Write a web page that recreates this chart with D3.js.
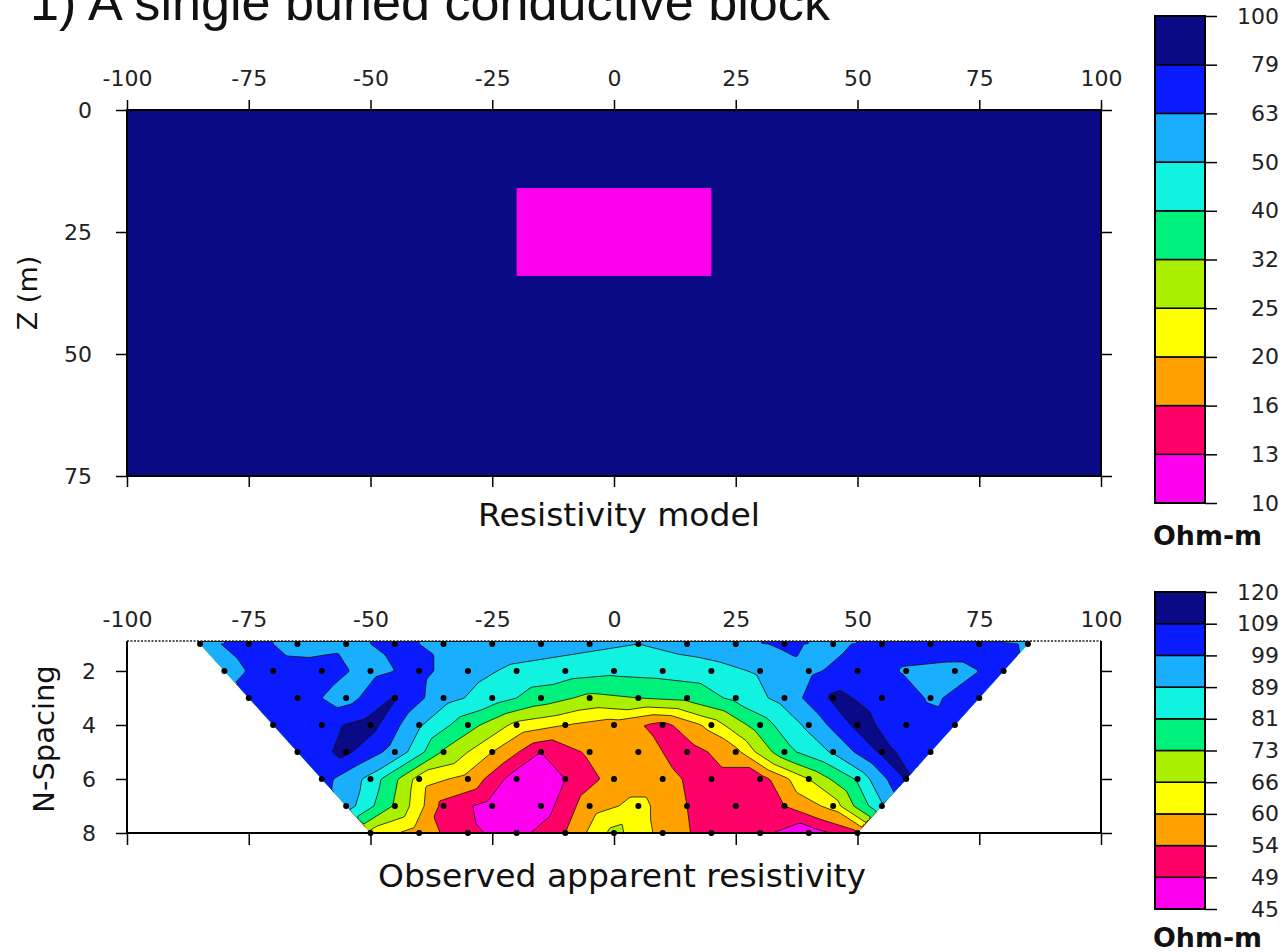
<!DOCTYPE html>
<html><head><meta charset="utf-8">
<script src="https://cdn.jsdelivr.net/npm/d3@7"></script>
<style>body{margin:0;background:#fff}svg{display:block}</style>
</head><body>
<svg id="c" width="1284" height="952"></svg>
<script>
// ---------------- DATA ----------------
const title = "1) A single buried conductive block";
const modelTitle = "Resistivity model";
const pseudoTitle = "Observed apparent resistivity";
const unitLabel = "Ohm-m";

// Resistivity model
const modelXTicks = [-100, -75, -50, -25, 0, 25, 50, 75, 100];
const modelZTicks = [0, 25, 50, 75];
const modelExtentX = [-100, 100];
const modelExtentZ = [0, 75];
const modelBackgroundRes = 100;
const blockX = [-20, 20];
const blockZ = [16, 34];
const blockRes = 10;
const modelLevels = [10, 13, 16, 20, 25, 32, 40, 50, 63, 79, 100];

// Pseudosection
const pseudoXTicks = [-100, -75, -50, -25, 0, 25, 50, 75, 100];
const pseudoNTicks = [2, 4, 6, 8];
const pseudoNDomain = [0.89, 8];
const pseudoLevels = [45, 49, 54, 60, 66, 73, 81, 89, 99, 109, 120];
const nSpacing = [1, 2, 3, 4, 5, 6, 7, 8];
const rowStart = [-85, -80, -75, -70, -65, -60, -55, -50];
const stationStep = 10;
const row1 = [96, 103, 95, 97, 101, 97, 95, 93, 91, 89, 92, 95, 101, 96, 104, 103, 103, 98];
const row2 = [95, 104, 103, 96, 102, 92, 87, 85, 83, 84, 86, 90, 97, 104, 98, 97, 101];
const row3 = [104, 103, 95, 110, 92, 85, 77, 71, 73, 75, 83, 92, 111, 106, 98, 102];
const row4 = [104, 106, 113, 90, 76, 64, 60, 57, 52, 62, 77, 91, 112, 104, 101];
const row5 = [104, 111, 95, 72, 60, 49, 55, 57, 51, 58, 78, 90, 111, 104];
const row6 = [103, 86, 63, 58, 46, 49, 56, 56, 51, 51, 66, 82, 110];
const row7 = [93, 72, 52, 47, 46, 57, 62, 54, 50, 54, 62, 88];
const row8 = [64, 57, 50, 47, 54, 68, 58, 51, 50, 46, 53];
const rows = [row1, row2, row3, row4, row5, row6, row7, row8];

// shared colour bands, lowest to highest
const bandColors = ["#ff00ee", "#ff0068", "#ffa200", "#ffff00", "#aaf000",
                    "#00f07c", "#12f2e0", "#1aaeff", "#0a1cff", "#0a0a86"];

// ---------------- DRAW ----------------
const svg = d3.select("#c");
const SANS = "'DejaVu Sans', Verdana, sans-serif";
const TICKCOL = "#222";
const plainFmt = d => String(d);

svg.append("text")
  .attr("x", 30).attr("y", 20)
  .attr("font-family", "'Liberation Sans', Arial, sans-serif")
  .attr("font-size", 52).attr("fill", "#111")
  .attr("textLength", 800).attr("lengthAdjust", "spacingAndGlyphs")
  .text(title);

function styleAxis(g, fs) {
  g.select(".domain").remove();
  g.selectAll(".tick line").attr("stroke", "#000").attr("stroke-width", 1.5);
  g.selectAll(".tick text").attr("font-family", SANS).attr("font-size", fs).attr("fill", TICKCOL);
}

// ---- Top: resistivity model ----
const xM = d3.scaleLinear().domain(modelExtentX).range([127, 1101]);
const zM = d3.scaleLinear().domain(modelExtentZ).range([110, 476]);
const modelColor = d3.scaleThreshold().domain(modelLevels.slice(1, -1)).range(bandColors);

svg.append("rect")
  .attr("x", xM(modelExtentX[0])).attr("y", zM(modelExtentZ[0]))
  .attr("width", xM(modelExtentX[1]) - xM(modelExtentX[0]))
  .attr("height", zM(modelExtentZ[1]) - zM(modelExtentZ[0]))
  .attr("fill", modelColor(modelBackgroundRes));
svg.append("rect")
  .attr("x", xM(blockX[0])).attr("y", zM(blockZ[0]))
  .attr("width", xM(blockX[1]) - xM(blockX[0]))
  .attr("height", zM(blockZ[1]) - zM(blockZ[0]))
  .attr("fill", modelColor(blockRes));

svg.append("g").attr("transform", `translate(0,${zM.range()[0]})`)
  .call(d3.axisTop(xM).tickValues(modelXTicks).tickFormat(plainFmt).tickSize(10).tickPadding(14).tickSizeOuter(0))
  .call(g => styleAxis(g, 22));
svg.append("g").attr("transform", `translate(0,${zM.range()[1]})`)
  .call(d3.axisBottom(xM).tickValues(modelXTicks).tickSize(11).tickFormat("").tickSizeOuter(0))
  .call(g => styleAxis(g, 22));
svg.append("g").attr("transform", `translate(${xM.range()[0]},0)`)
  .call(d3.axisLeft(zM).tickValues(modelZTicks).tickFormat(plainFmt).tickSize(11).tickPadding(24).tickSizeOuter(0))
  .call(g => styleAxis(g, 22));
svg.append("g").attr("transform", `translate(${xM.range()[1]},0)`)
  .call(d3.axisRight(zM).tickValues(modelZTicks).tickSize(11).tickFormat("").tickSizeOuter(0))
  .call(g => styleAxis(g, 22));
svg.append("rect")
  .attr("x", xM.range()[0]).attr("y", zM.range()[0])
  .attr("width", xM.range()[1] - xM.range()[0]).attr("height", zM.range()[1] - zM.range()[0])
  .attr("fill", "none").attr("stroke", "#000").attr("stroke-width", 2);

svg.append("text").attr("x", 478).attr("y", 526)
  .attr("font-family", SANS).attr("font-size", 32).attr("fill", "#111")
  .attr("textLength", 282).attr("lengthAdjust", "spacingAndGlyphs")
  .text(modelTitle);
svg.append("text").attr("transform", `translate(27,${(zM.range()[0] + zM.range()[1]) / 2}) rotate(-90)`)
  .attr("text-anchor", "middle").attr("dominant-baseline", "central")
  .attr("font-family", SANS).attr("font-size", 27).attr("fill", "#111")
  .text("Z (m)");

// ---- Bottom: pseudosection ----
const xP = d3.scaleLinear().domain([pseudoXTicks[0], pseudoXTicks[pseudoXTicks.length - 1]]).range([127, 1101]);
const nP = d3.scaleLinear().domain(pseudoNDomain).range([641, 833]);

const pts = [];
rows.forEach((vals, r) => vals.forEach((v, k) => {
  const x = rowStart[r] + k * stationStep;
  pts.push({ x, n: nSpacing[r], v, px: xP(x), py: nP(nSpacing[r]) });
}));

const cell = 2;
const gx0 = xP.range()[0], gy0 = nP.range()[0];
const gw = Math.ceil((xP.range()[1] - gx0) / cell);
const gh = Math.ceil((nP.range()[1] - gy0) / cell);
const grid = new Float64Array(gw * gh).fill(NaN);
const del = d3.Delaunay.from(pts, p => p.px, p => p.py);
const T = del.triangles;
for (let t = 0; t < T.length; t += 3) {
  const a = pts[T[t]], b = pts[T[t + 1]], c = pts[T[t + 2]];
  const det = (b.py - c.py) * (a.px - c.px) + (c.px - b.px) * (a.py - c.py);
  if (Math.abs(det) < 1e-9) continue;
  const i0 = Math.max(0, Math.floor((Math.min(a.px, b.px, c.px) - gx0) / cell) - 1);
  const i1 = Math.min(gw - 1, Math.ceil((Math.max(a.px, b.px, c.px) - gx0) / cell) + 1);
  const j0 = Math.max(0, Math.floor((Math.min(a.py, b.py, c.py) - gy0) / cell) - 1);
  const j1 = Math.min(gh - 1, Math.ceil((Math.max(a.py, b.py, c.py) - gy0) / cell) + 1);
  for (let j = j0; j <= j1; j++) for (let i = i0; i <= i1; i++) {
    const X = gx0 + (i + 0.5) * cell, Y = gy0 + (j + 0.5) * cell;
    const l1 = ((b.py - c.py) * (X - c.px) + (c.px - b.px) * (Y - c.py)) / det;
    const l2 = ((c.py - a.py) * (X - c.px) + (a.px - c.px) * (Y - c.py)) / det;
    const l3 = 1 - l1 - l2;
    if (l1 >= -1e-7 && l2 >= -1e-7 && l3 >= -1e-7) grid[j * gw + i] = l1 * a.v + l2 * b.v + l3 * c.v;
  }
}
for (let j = 0; j < gh; j++) for (let i = 0; i < gw; i++) {
  const k = j * gw + i;
  if (isNaN(grid[k])) grid[k] = pts[del.find(gx0 + (i + 0.5) * cell, gy0 + (j + 0.5) * cell)].v;
}

// hull polygon (extended to top frame)
const last = rows.length - 1;
const leftEdge = d3.scaleLinear().domain([nSpacing[0], nSpacing[last]]).range([rowStart[0], rowStart[last]]);
const rowEnd = rows.map((r, i) => rowStart[i] + (r.length - 1) * stationStep);
const rightEdge = d3.scaleLinear().domain([nSpacing[0], nSpacing[last]]).range([rowEnd[0], rowEnd[last]]);
const nTop = pseudoNDomain[0], nBot = nSpacing[last];
const hull = [[xP(leftEdge(nTop)), nP(nTop)], [xP(leftEdge(nBot)), nP(nBot)],
              [xP(rightEdge(nBot)), nP(nBot)], [xP(rightEdge(nTop)), nP(nTop)]];

svg.append("clipPath").attr("id", "hullclip")
  .append("path").attr("d", "M" + hull.map(p => p.join(",")).join("L") + "Z");

const contours = d3.contours().size([gw, gh]).thresholds(pseudoLevels.slice(0, -1))(grid);
const proj = d3.geoTransform({ point(x, y) { this.stream.point(gx0 + x * cell, gy0 + y * cell); } });
const gpath = d3.geoPath(proj);

const gc = svg.append("g").attr("clip-path", "url(#hullclip)");
gc.append("path").attr("d", "M" + hull.map(p => p.join(",")).join("L") + "Z").attr("fill", bandColors[0]);
gc.selectAll("path.band").data(contours).join("path").attr("class", "band")
  .attr("d", gpath).attr("fill", (d, i) => bandColors[i]);
gc.selectAll("path.iso").data(contours.slice(1)).join("path").attr("class", "iso")
  .attr("d", gpath).attr("fill", "none").attr("stroke", "#111").attr("stroke-width", 1).attr("stroke-opacity", 0.8);

svg.append("g").selectAll("circle").data(pts).join("circle")
  .attr("cx", d => d.px).attr("cy", d => d.py).attr("r", 3).attr("fill", "#000");

svg.append("g").attr("transform", `translate(0,${nP.range()[0]})`)
  .call(d3.axisTop(xP).tickValues(pseudoXTicks).tickFormat(plainFmt).tickSize(0).tickPadding(14).tickSizeOuter(0))
  .call(g => styleAxis(g, 22));
svg.append("g").attr("transform", `translate(0,${nP.range()[1]})`)
  .call(d3.axisBottom(xP).tickValues(pseudoXTicks).tickSize(12).tickFormat("").tickSizeOuter(0))
  .call(g => styleAxis(g, 22));
svg.append("g").attr("transform", `translate(${xP.range()[0]},0)`)
  .call(d3.axisLeft(nP).tickValues(pseudoNTicks).tickFormat(plainFmt).tickSize(11).tickPadding(20).tickSizeOuter(0))
  .call(g => styleAxis(g, 22));
svg.append("g").attr("transform", `translate(${xP.range()[1]},0)`)
  .call(d3.axisRight(nP).tickValues(pseudoNTicks).tickSize(11).tickFormat("").tickSizeOuter(0))
  .call(g => styleAxis(g, 22));
const [fx0, fx1] = xP.range(), [fy0, fy1] = nP.range();
svg.append("path").attr("d", `M${fx0},${fy0}V${fy1}H${fx1}V${fy0}`)
  .attr("fill", "none").attr("stroke", "#000").attr("stroke-width", 2);
svg.append("line").attr("x1", fx0).attr("x2", fx1).attr("y1", fy0).attr("y2", fy0)
  .attr("stroke", "#222").attr("stroke-width", 1.6).attr("stroke-dasharray", "2,1.5");

svg.append("text").attr("x", 378).attr("y", 887)
  .attr("font-family", SANS).attr("font-size", 32).attr("fill", "#111")
  .attr("textLength", 488).attr("lengthAdjust", "spacingAndGlyphs")
  .text(pseudoTitle);
svg.append("text").attr("transform", `translate(44,${(fy0 + fy1) / 2 + 2}) rotate(-90)`)
  .attr("text-anchor", "middle").attr("dominant-baseline", "central")
  .attr("font-family", SANS).attr("font-size", 29).attr("fill", "#111")
  .text("N-Spacing");

// ---- Colour bars ----
function colorbar(levels, yBottom, yTop, unitY) {
  const s = d3.scaleLinear().domain([0, levels.length - 1]).range([yBottom, yTop]);
  const bx0 = 1155, bx1 = 1205;
  const g = svg.append("g");
  g.selectAll("rect.b").data(bandColors).join("rect").attr("class", "b")
    .attr("x", bx0).attr("width", bx1 - bx0)
    .attr("y", (d, i) => s(i + 1)).attr("height", (d, i) => s(i) - s(i + 1))
    .attr("fill", d => d).attr("stroke", "#000").attr("stroke-width", 1.5);
  g.append("rect").attr("x", bx0).attr("y", yTop).attr("width", bx1 - bx0).attr("height", yBottom - yTop)
    .attr("fill", "none").attr("stroke", "#000").attr("stroke-width", 2);
  g.append("g").attr("transform", `translate(${bx1},0)`)
    .call(d3.axisRight(s).tickValues(d3.range(levels.length)).tickSize(12).tickFormat("").tickSizeOuter(0))
    .call(a => styleAxis(a, 22));
  g.selectAll("text.l").data(levels).join("text").attr("class", "l")
    .attr("x", 1279).attr("y", (d, i) => s(i)).attr("text-anchor", "end").attr("dominant-baseline", "central")
    .attr("font-family", SANS).attr("font-size", 22).attr("fill", TICKCOL).text(d => d);
  g.append("text").attr("x", 1153).attr("y", unitY)
    .attr("font-family", SANS).attr("font-weight", "bold").attr("font-size", 27).attr("fill", "#111")
    .attr("textLength", 109).attr("lengthAdjust", "spacingAndGlyphs")
    .text(unitLabel);
}
colorbar(modelLevels, 503, 16, 545);
colorbar(pseudoLevels, 909, 592, 947);
</script>
</body></html>
